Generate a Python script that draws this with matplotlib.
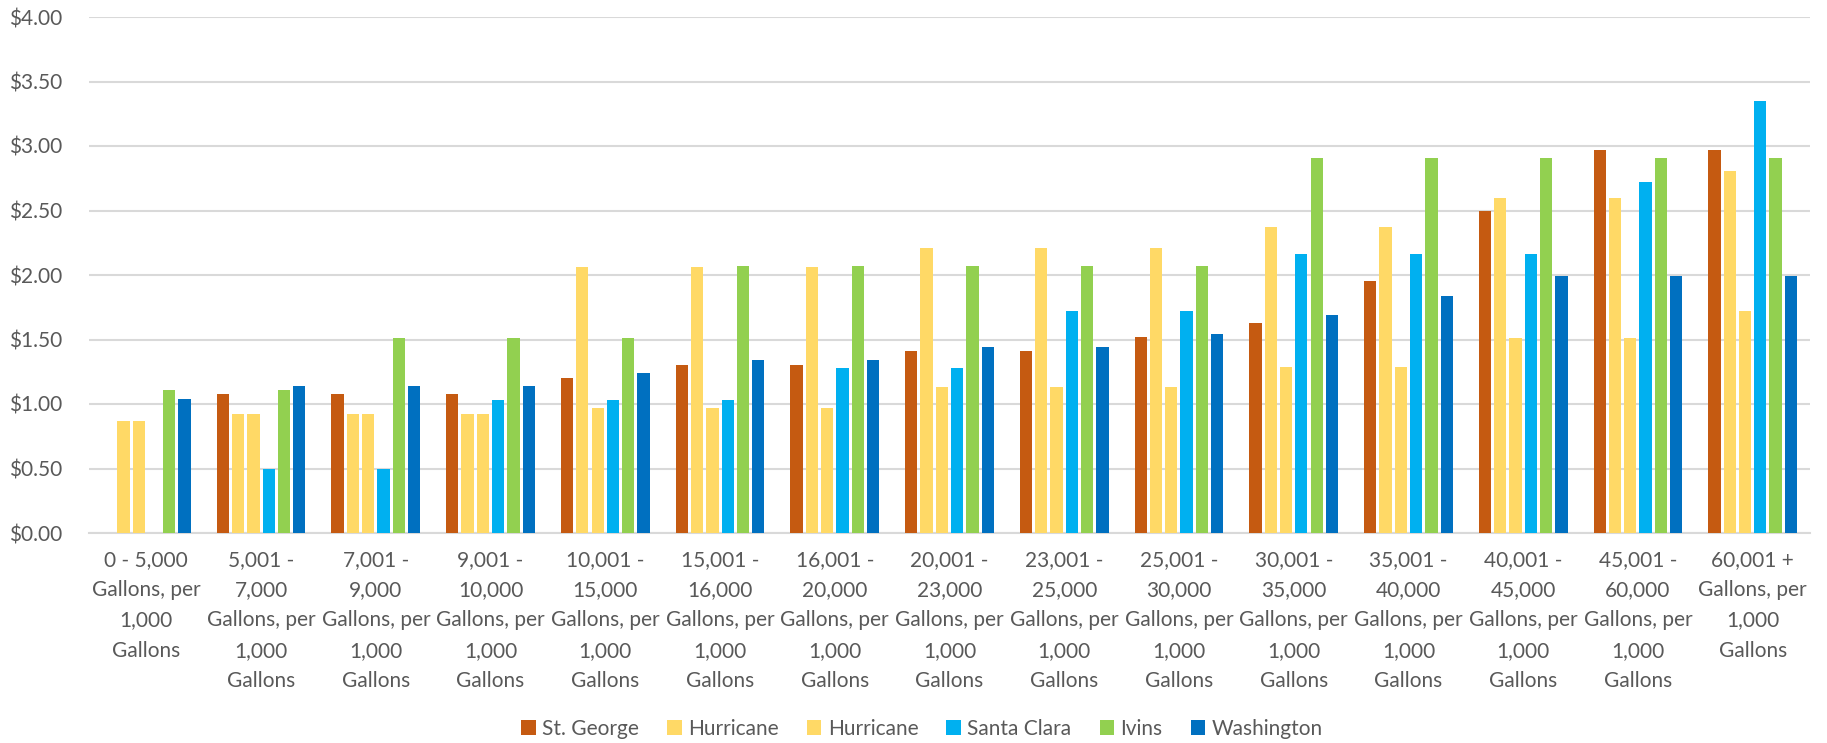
import numpy as np
import matplotlib
matplotlib.use("Agg")
import matplotlib.pyplot as plt
from matplotlib.ticker import FuncFormatter

plt.rcParams['font.family'] = ['Lato', 'DejaVu Sans']

# tier labels, wrapped as in the original chart
tiers = [
    "0 - 5,000\nGallons, per\n1,000\nGallons",
    "5,001 -\n7,000\nGallons, per\n1,000\nGallons",
    "7,001 -\n9,000\nGallons, per\n1,000\nGallons",
    "9,001 -\n10,000\nGallons, per\n1,000\nGallons",
    "10,001 -\n15,000\nGallons, per\n1,000\nGallons",
    "15,001 -\n16,000\nGallons, per\n1,000\nGallons",
    "16,001 -\n20,000\nGallons, per\n1,000\nGallons",
    "20,001 -\n23,000\nGallons, per\n1,000\nGallons",
    "23,001 -\n25,000\nGallons, per\n1,000\nGallons",
    "25,001 -\n30,000\nGallons, per\n1,000\nGallons",
    "30,001 -\n35,000\nGallons, per\n1,000\nGallons",
    "35,001 -\n40,000\nGallons, per\n1,000\nGallons",
    "40,001 -\n45,000\nGallons, per\n1,000\nGallons",
    "45,001 -\n60,000\nGallons, per\n1,000\nGallons",
    "60,001 +\nGallons, per\n1,000\nGallons",
]

# rate per 1,000 gallons (0 = no rate for that tier)
st_george = [0, 1.08, 1.08, 1.08, 1.20, 1.30, 1.30, 1.41, 1.41, 1.52, 1.63, 1.95, 2.50, 2.97, 2.97]
hurricane_a = [0.87, 0.92, 0.92, 0.92, 2.06, 2.06, 2.06, 2.21, 2.21, 2.21, 2.37, 2.37, 2.60, 2.60, 2.81]
hurricane_b = [0.87, 0.92, 0.92, 0.92, 0.97, 0.97, 0.97, 1.13, 1.13, 1.13, 1.29, 1.29, 1.51, 1.51, 1.72]
santa_clara = [0, 0.50, 0.50, 1.03, 1.03, 1.03, 1.28, 1.28, 1.72, 1.72, 2.16, 2.16, 2.16, 2.72, 3.35]
ivins = [1.11, 1.11, 1.51, 1.51, 1.51, 2.07, 2.07, 2.07, 2.07, 2.07, 2.91, 2.91, 2.91, 2.91, 2.91]
washington = [1.04, 1.14, 1.14, 1.14, 1.24, 1.34, 1.34, 1.44, 1.44, 1.54, 1.69, 1.84, 1.99, 1.99, 1.99]

series = [
    ("St. George", st_george, "#C55A11"),
    ("Hurricane", hurricane_a, "#FFD966"),
    ("Hurricane", hurricane_b, "#FFD966"),
    ("Santa Clara", santa_clara, "#00B0F0"),
    ("Ivins", ivins, "#92D050"),
    ("Washington", washington, "#0070C0"),
]

grey = "#595959"
fig = plt.figure(figsize=(18.27, 7.43), dpi=100)
ax = fig.add_axes([89 / 1827, 1 - 533 / 743, (1810 - 89) / 1827, (533 - 17) / 743])

x = np.arange(len(tiers))
slot = 0.1333
for i, (name, vals, col) in enumerate(series):
    off = (i - 2.5) * slot
    ax.bar(x + off, vals, width=0.107, color=col, label=name, zorder=3)

ax.set_xlim(-0.5, len(tiers) - 0.5)
ax.set_ylim(0, 4)
ax.set_yticks(np.arange(0, 4.01, 0.5))
ax.yaxis.set_major_formatter(FuncFormatter(lambda v, p: "${:.2f}".format(v)))
ax.grid(axis="y", color="#D9D9D9", linewidth=1.5, zorder=0)
ax.set_xticks(x)
ax.set_xticklabels(tiers, linespacing=1.65)
ax.tick_params(axis="both", length=0, labelsize=15, colors=grey)
ax.tick_params(axis="y", pad=19)
ax.tick_params(axis="x", pad=12)
for s in ["top", "right", "left"]:
    ax.spines[s].set_visible(False)
ax.spines["bottom"].set_color("#D9D9D9")
ax.spines["bottom"].set_linewidth(1.5)

leg = fig.legend(loc="center", bbox_to_anchor=(922 / 1827, 1 - 729 / 743), ncol=6,
                 frameon=False, fontsize=15, handlelength=0.7, handleheight=0.7,
                 handletextpad=0.3, columnspacing=1.35)
for t in leg.get_texts():
    t.set_color(grey)

fig.savefig("out.png", dpi=100)
